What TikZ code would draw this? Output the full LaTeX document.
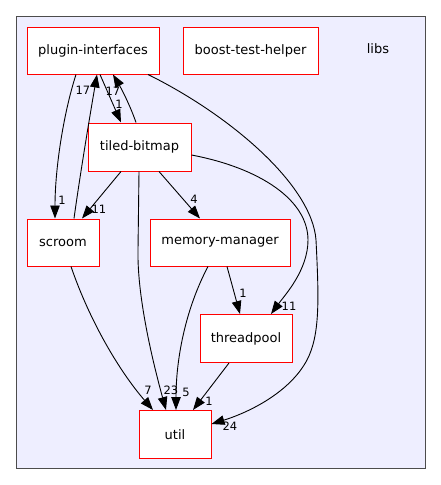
\documentclass[tikz,border=0pt]{standalone}
\usepackage{fontspec}
\setmainfont{DejaVu Sans}
\usetikzlibrary{arrows.meta}
\definecolor{clusterbg}{RGB}{238,238,255}

\begin{document}
\begin{tikzpicture}[x=1pt,y=-1pt,
		dir/.style={draw=red,fill=white,line width=1pt,minimum height=47pt,inner sep=0pt,font=\fontsize{13}{15}\selectfont},
		line/.style={black,line width=0.9pt,-{Triangle[length=13pt,width=9.5pt]}},
		lbl/.style={inner sep=0pt,font=\fontsize{11.5}{13}\selectfont}]
		\useasboundingbox (0,0) rectangle (441,485);
		\draw[black!70,fill=clusterbg,line width=1pt] (16,16) rectangle (425,468);
		\node[font=\fontsize{13}{15}\selectfont] (libs) at (378,49) {libs};

		\node[dir,minimum width=132pt] (pi) at (93,50.5) {plugin-interfaces};
		\node[dir,minimum width=135pt] (bth) at (250.5,50.5) {boost-test-helper};
		\node[dir,minimum width=103pt,minimum height=48pt] (tb) at (139.5,147) {tiled-bitmap};
		\node[dir,minimum width=72pt] (scroom) at (63,242.5) {scroom};
		\node[dir,minimum width=140pt] (mm) at (220,242.5) {memory-manager};
		\node[dir,minimum width=92pt,minimum height=48pt] (tp) at (246,338.5) {threadpool};
		\node[dir,minimum width=72pt,minimum height=48pt] (util) at (175,434.5) {util};

		%plugin-interfaces lines
		\draw[line] ([xshift=-17pt]pi.south) .. controls (63,115) and (55,170) .. ([xshift=-8pt]scroom.north);
		\draw[line] ([xshift=7pt]pi.south) -- ([xshift=-18.5pt]tb.north);
		\draw[line] ([xshift=55pt]pi.south) .. controls (230,115) and (312,185) .. (316,240)
			.. controls (319,300) and (320,335) .. (307,360)
			.. controls (290,392) and (250,412) .. ([yshift=10.5pt]util.east);

		%scroom lines
		\draw[line] ([xshift=11pt]scroom.north) .. controls (80,175) and (90,115) .. ([xshift=4pt]pi.south);
		\draw[line] ([xshift=8pt]scroom.south) .. controls (90,322) and (120,372) .. ([xshift=-22pt]util.north);

		%tiled-bitmap lines
		\draw[line] ([xshift=-3.5pt]tb.north) .. controls (130,105) and (121,88) .. ([xshift=20pt]pi.south);
		\draw[line] ([xshift=-18.5pt]tb.south) -- ([xshift=19pt]scroom.north);
		\draw[line] ([xshift=19.5pt]tb.south) -- ([xshift=-20pt]mm.north);
		\draw[line] ([xshift=-0.5pt]tb.south) -- (138,250) .. controls (137,300) and (155,370) .. ([xshift=-9pt]util.north);
		\draw[line] ([yshift=-8pt]tb.east) .. controls (260,168) and (308,200) .. (308,240)
			.. controls (308,270) and (285,295) .. ([xshift=25pt]tp.north);

		%memory-manager and threadpool lines
		\draw[line] ([xshift=-12pt]mm.south) .. controls (185,310) and (176,360) .. ([xshift=1pt]util.north);
		\draw[line] ([xshift=7pt]mm.south) -- ([xshift=-6pt]tp.north);
		\draw[line] ([xshift=-17pt]tp.south) -- ([xshift=18pt]util.north);

		%labels
		\node[lbl] (l1) at (62,200) {1};
		\node[lbl] (l2) at (83,90) {17};
		\node[lbl] (l3) at (119,104) {1};
		\node[lbl] (l4) at (113,91) {17};
		\node[lbl] (l5) at (230,426) {24};
		\node[lbl] (l6) at (289,306) {11};
		\node[lbl] (l7) at (99,209) {11};
		\node[lbl] (l8) at (194,199) {4};
		\node[lbl] (l9) at (171,390) {23};
		\node[lbl] (l10) at (186,392) {5};
		\node[lbl] (l11) at (243,293) {1};
		\node[lbl] (l12) at (209,401) {1};
		\node[lbl] (l13) at (148,390) {7};
\end{tikzpicture}
\end{document}
